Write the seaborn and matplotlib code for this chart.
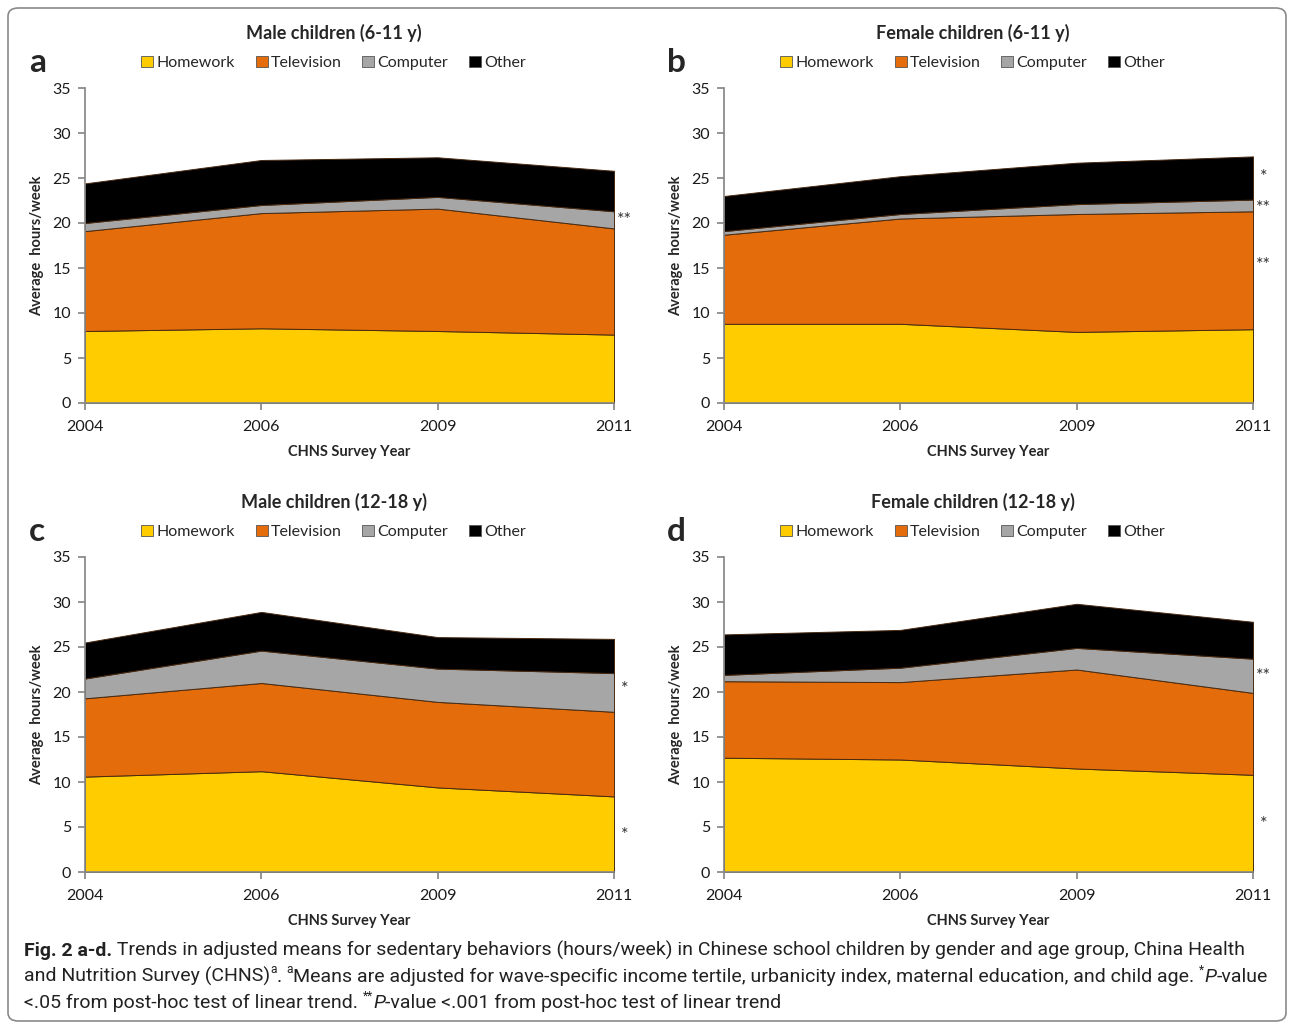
"""Fig. 2 a-d: stacked area of sedentary behaviours by survey year (CHNS)."""

import matplotlib
matplotlib.use("Agg")
import matplotlib.pyplot as plt
import numpy as np
import pandas as pd
import seaborn as sns
from matplotlib.patches import FancyBboxPatch, Patch

YEARS = ["2004", "2006", "2009", "2011"]
ACTIVITIES = ["Homework", "Television", "Computer", "Other"]
COLORS = ["#FFCC00", "#E46C0A", "#A6A6A6", "#000000"]

# hours/week per activity
male_6_11 = {
    "Homework": [8.0, 8.3, 8.0, 7.6],
    "Television": [11.1, 12.8, 13.6, 11.8],
    "Computer": [0.9, 0.9, 1.3, 1.9],
    "Other": [4.4, 5.0, 4.4, 4.5],
}
female_6_11 = {
    "Homework": [8.8, 8.8, 7.9, 8.2],
    "Television": [9.9, 11.7, 13.1, 13.1],
    "Computer": [0.4, 0.5, 1.1, 1.3],
    "Other": [3.9, 4.2, 4.6, 4.8],
}
male_12_18 = {
    "Homework": [10.6, 11.2, 9.4, 8.4],
    "Television": [8.7, 9.8, 9.5, 9.4],
    "Computer": [2.2, 3.6, 3.7, 4.3],
    "Other": [4.0, 4.3, 3.5, 3.8],
}
female_12_18 = {
    "Homework": [12.7, 12.5, 11.5, 10.8],
    "Television": [8.5, 8.6, 11.0, 9.1],
    "Computer": [0.7, 1.6, 2.4, 3.8],
    "Other": [4.5, 4.2, 4.9, 4.1],
}

# significance marks: (y value, label)
marks_a = [(20.3, "**")]
marks_b = [(25.1, "*"), (21.7, "**"), (15.3, "**")]
marks_c = [(20.3, "*"), (4.1, "*")]
marks_d = [(21.8, "**"), (5.3, "*")]

PANELS = [
    ("a", "Male children (6-11 y)", male_6_11, marks_a),
    ("b", "Female children (6-11 y)", female_6_11, marks_b),
    ("c", "Male children (12-18 y)", male_12_18, marks_c),
    ("d", "Female children (12-18 y)", female_12_18, marks_d),
]

sns.set_theme(style="ticks")
FONT = ["Lato", "DejaVu Sans"]
CAPFONT = ["Liberation Sans Narrow", "Roboto", "DejaVu Sans"]
plt.rcParams["font.family"] = FONT

W, H = 1292, 1025
fig = plt.figure(figsize=(W / 100, H / 100), dpi=100)


def px_box(left, top, right, bottom):
    return [left / W, 1 - bottom / H, (right - left) / W, (bottom - top) / H]


boxes = [
    px_box(85, 88, 614, 403),
    px_box(724, 88, 1253, 403),
    px_box(85, 557, 614, 872),
    px_box(724, 557, 1253, 872),
]

for (letter, title, data, marks), box in zip(PANELS, boxes):
    ax = fig.add_axes(box)
    df = pd.DataFrame(data, index=YEARS)
    x = np.arange(len(YEARS))
    ax.stackplot(x, *[df[a].values for a in ACTIVITIES], colors=COLORS,
                 edgecolor="#4a2a10", linewidth=0.7)
    ax.set_xlim(0, len(YEARS) - 1)
    ax.set_ylim(0, 35)
    ax.set_yticks(range(0, 36, 5))
    ax.set_xticks(x, YEARS)
    ax.tick_params(labelsize=11.5, length=5, color="#888888",
                   labelcolor="#1a1a1a")
    ax.tick_params(axis="x", pad=7)
    ax.tick_params(axis="y", pad=5)
    sns.despine(ax=ax)
    for s in ("left", "bottom"):
        ax.spines[s].set_color("#888888")
    ax.set_xlabel("CHNS Survey Year", fontsize=10.5, fontweight="bold",
                  labelpad=8)
    ax.set_ylabel("Average  hours/week", fontsize=10.5, fontweight="bold",
                  labelpad=6)
    ax.text(0.47, 1.175, title, transform=ax.transAxes, ha="center",
            va="center", fontsize=13, fontweight="bold")
    ax.text(-0.09, 1.08, letter, transform=ax.transAxes, ha="center",
            va="center", fontsize=24, fontweight="bold")
    handles = [Patch(facecolor=c, edgecolor="#555555", linewidth=0.6)
               for c in COLORS]
    ax.legend(handles, ACTIVITIES, loc="center", bbox_to_anchor=(0.47, 1.08),
              ncol=4, frameon=False, fontsize=11.5, handlelength=0.75,
              handleheight=0.75, handletextpad=0.2, columnspacing=1.3,
              borderpad=0)
    for yv, lab in marks:
        ax.text(3.06, yv, lab, ha="center", va="center", fontsize=13,
                color="#333333", clip_on=False)

# caption, drawn in pieces so the bold / italic / superscript parts sit inline
cax = fig.add_axes([0, 0, 1, 1])
cax.axis("off")
cax.set_xlim(0, 1)
cax.set_ylim(0, 1)

caption_lines = [
    [("Fig. 2 a-d.", "b"),
     (" Trends in adjusted means for sedentary behaviors (hours/week) in Chinese "
      "school children by gender and age group, China Health", "n")],
    [("and Nutrition Survey (CHNS)", "n"), ("a", "sup"), (". ", "n"),
     ("a", "sup"),
     ("Means are adjusted for wave-specific income tertile, urbanicity index, "
      "maternal education, and child age. ", "n"),
     ("*", "sup"), ("P", "i"), ("-value", "n")],
    [("<.05 from post-hoc test of linear trend. ", "n"), ("**", "sup"),
     ("P", "i"), ("-value <.001 from post-hoc test of linear trend", "n")],
]
CAP_SIZE = 14
for i, pieces in enumerate(caption_lines):
    y = 1 - (960 + 26 * i) / H
    prev = None
    base = None
    for txt, style in pieces:
        kw = dict(fontsize=CAP_SIZE, family=CAPFONT, color="#222222",
                  va="bottom", ha="left")
        if style == "b":
            kw["fontweight"] = "bold"
        if style == "i":
            kw["fontstyle"] = "italic"
        off = 0
        if style == "sup":
            kw["fontsize"] = CAP_SIZE * 0.62
            off = 7
        if prev is None:
            t = cax.annotate(txt, xy=(24 / W, y), xycoords="data",
                             xytext=(0, off), textcoords="offset points", **kw)
        else:
            t = cax.annotate(txt, xy=(1, 0), xycoords=(prev, base),
                             xytext=(0, off), textcoords="offset points", **kw)
        prev = t
        if style != "sup" or base is None:
            base = t

# rounded frame round the whole figure
frame = FancyBboxPatch((8 / W, 4 / H), (W - 14) / W, (H - 12) / H,
                       boxstyle="round,pad=0,rounding_size=0.008",
                       transform=fig.transFigure, facecolor="none",
                       edgecolor="#8a8a8a", linewidth=1.2)
fig.add_artist(frame)

fig.savefig("out.png", dpi=100)
